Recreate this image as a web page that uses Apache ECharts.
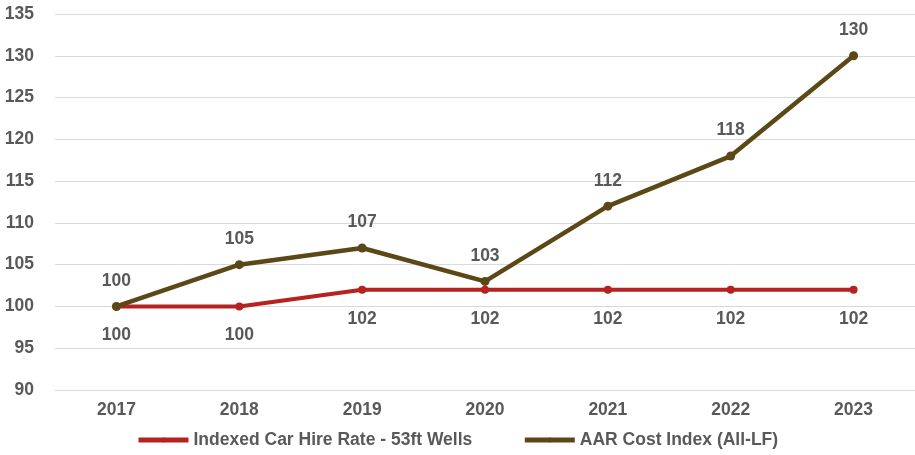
<!DOCTYPE html>
<html>
<head>
<meta charset="utf-8">
<script src="https://cdn.jsdelivr.net/npm/echarts@6/dist/echarts.min.js"></script>
<style>
  html, body { margin: 0; padding: 0; background: #ffffff; }
  #chart { width: 915px; height: 455px; }
</style>
</head>
<body>
<div id="chart"></div>
<script>
// Years on the category axis
const years = ['2017', '2018', '2019', '2020', '2021', '2022', '2023'];
// Index values (2017 = 100)
const carHireRate = [100, 100, 102, 102, 102, 102, 102];
const aarCostIndex = [100, 105, 107, 103, 112, 118, 130];
const seriesNames = ['Indexed Car Hire Rate - 53ft Wells', 'AAR Cost Index (All-LF)'];

const textColor = '#595959';
const fontFamily = '"Liberation Sans", Arial, sans-serif';
const fontSize = 17.5;

const chart = echarts.init(document.getElementById('chart'), null, { renderer: 'canvas' });

chart.setOption({
  animation: false,
  backgroundColor: '#ffffff',
  grid: { left: 55, top: 14, width: 863, height: 376, containLabel: false },
  xAxis: {
    type: 'category',
    data: years,
    boundaryGap: true,
    axisLine: { show: true, lineStyle: { color: '#d9d9d9', width: 1 } },
    axisTick: { show: false },
    axisLabel: { color: textColor, fontWeight: 'bold', fontSize: fontSize, fontFamily: fontFamily, margin: 11 }
  },
  yAxis: {
    type: 'value',
    min: 90,
    max: 135,
    interval: 5,
    axisLine: { show: false },
    axisTick: { show: false },
    splitLine: { lineStyle: { color: '#d9d9d9', width: 1 } },
    axisLabel: { color: textColor, fontWeight: 'bold', fontSize: fontSize, fontFamily: fontFamily, margin: 21 }
  },
  legend: {
    bottom: 6,
    left: 136,
    padding: 0,
    itemWidth: 50,
    itemHeight: 6,
    itemGap: 50,
    lineStyle: { width: 5 },
    textStyle: { color: textColor, fontWeight: 'bold', fontSize: fontSize, fontFamily: fontFamily },
    data: seriesNames
  },
  series: [
    {
      name: seriesNames[0],
      type: 'line',
      data: carHireRate,
      symbol: 'circle',
      symbolSize: 8,
      z: 2,
      lineStyle: { color: '#b5221f', width: 4 },
      itemStyle: { color: '#b5221f' },
      label: {
        show: true,
        position: 'bottom',
        distance: 16,
        color: textColor,
        fontWeight: 'bold',
        fontSize: fontSize,
        fontFamily: fontFamily
      }
    },
    {
      name: seriesNames[1],
      type: 'line',
      data: aarCostIndex,
      symbol: 'circle',
      symbolSize: 9,
      z: 3,
      lineStyle: { color: '#5c4717', width: 4.5 },
      itemStyle: { color: '#5c4717' },
      label: {
        show: true,
        position: 'top',
        distance: 12,
        color: textColor,
        fontWeight: 'bold',
        fontSize: fontSize,
        fontFamily: fontFamily
      }
    }
  ]
});
</script>
</body>
</html>
